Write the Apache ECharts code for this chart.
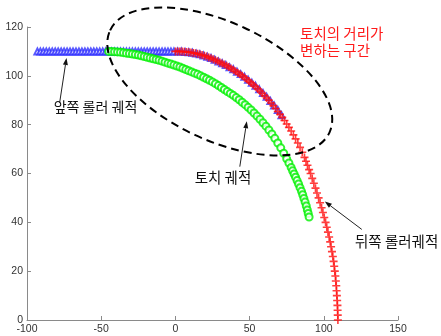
<!DOCTYPE html>
<html><head><meta charset="utf-8">
<script src="https://cdn.jsdelivr.net/npm/echarts@6/dist/echarts.min.js"></script>
<style>html,body{margin:0;padding:0;background:#fff}#c{width:441px;height:336px}</style>
</head><body><div id="c"></div>
<script>
// axis ranges / ticks
const xRange = [-100, 150, 50];
const yRange = [0, 120, 20];

// 앞쪽 롤러 궤적 (blue triangles)
const frontRoller = [
[-93,110],[-91,110],[-89,110],[-87,110],[-85,110],[-83,110],[-81,110],[-79,110],[-77,110],[-75,110],
[-73,110],[-71,110],[-69,110],[-67,110],[-65,110],[-63,110],[-61,110],[-59,110],[-57,110],[-55,110],
[-53,110],[-51,110],[-49,110],[-47,110],[-45,110],[-43,110],[-41,110],[-39,110],[-37,110],[-35,110],
[-33,110],[-31,110],[-29,110],[-27,110],[-25,110],[-23,110],[-21,110],[-19,110],[-17,110],[-15,110],
[-13,110],[-11,110],[-9,110],[-7,110],[-5,110],[-3,110],[-1,110],
[1.5,110],[4,110],[6.5,109.8],[9,109.7],[11.5,109.5],[14,109.1],[16.5,108.8],[19,108.3],[21.5,107.8],
[24,107.3],[26.5,106.6],[29,105.9],[31.5,105.2],[34,104.4],[36.5,103.5],[39,102.7],[41.5,101.7],
[44,100.7],[46.5,99.6],[49,98.4],[51.5,97.2],[54,95.9],[56.5,94.5],[59,93.0],[61.5,91.4],[64,89.7],
[66.5,87.9],[69,86.0],[71.5,83.9]
];

// 토치 궤적 (green circles)
const torch = [
[-45,110],[-43,110],[-41,109.9],[-39,109.8],[-37,109.7],[-35,109.5],[-33,109.3],[-31,109.1],[-29,108.9],
[-27,108.7],[-25,108.5],[-23,108.2],[-21,107.9],[-19,107.6],[-17,107.3],[-15,107.0],[-13,106.7],[-11,106.4],
[-9,106.0],[-7,105.6],[-5,105.2],[-3,104.8],[-1,104.4],[1,104.0],[3,103.6],[5,103.1],[7,102.6],[9,102.1],
[11,101.6],[13,101.1],[15,100.6],[17,100.0],[19,99.4],[21,98.8],[23,98.2],[25,97.5],[27,96.8],[29,96.0],
[31,95.2],[33,94.4],[35,93.6],[37,92.8],[39,92.0],[41,91.1],[43,90.2],[45,89.2],[47,88.2],[49,87.1],
[51,86.0],[53,84.8],[55,83.5],[57,82.2],[59,80.8],[61,79.4],[63,77.8],[65,76.2],[67,74.4],[69,72.5],
[71,70.5],[73,68.3],[75,66.0],[76.5,64.3],[78,62.5],[79,61.1],[80,59.8],[81,58.5],[82,57.1],[83,55.7],
[84,54.2],[85,52.7],[85.8,51.3],[86.6,49.8],[87.4,48.3],[88.2,46.7],[88.9,45.1],[89.5,43.6],[90.1,42.2]
];

// 뒤쪽 롤러 궤적 (red plus)
const rearRoller = [
[0,110],[1.5,110],[3,110],[4.5,109.95],[6,109.9],[7.5,109.8],[9,109.7],[10.5,109.55],[12,109.4],[13.5,109.2],
[15,109.0],[16.5,108.75],[18,108.5],[19.5,108.2],[21,107.9],[22.5,107.55],[24,107.2],[25.5,106.8],[27,106.4],
[28.5,105.95],[30,105.5],[31.5,105.05],[33,104.6],[34.5,104.1],[36,103.6],[37.5,103.05],[39,102.5],[40.5,101.9],
[42,101.3],[43.5,100.65],[45,100.0],[46.5,99.3],[48,98.6],[49.5,97.85],[51,97.1],[52.5,96.3],[54,95.5],
[55.5,94.65],[57,93.8],[58.5,92.85],[60,91.9],[61.5,90.95],[63,90.0],[64.5,88.9],[66,87.8],[67.5,86.6],
[69,85.4],[70.5,84.2],[72,83.0],[73.5,81.7],[75,80.3],[76.5,78.9],[78,77.4],[79.5,75.8],[81,74.2],[82.5,72.5],
[84,70.7],[85.5,68.7],[87,66.6],[88,65.0],[89,63.4],[90.1,61.6],
[91.1,60],[92.2,58],[93.3,56],[94.4,54],[95.4,52],[96.5,50],[97.5,48],[98.5,46],[99.4,44],[100.3,42],
[101.2,40],[102.0,38],[102.8,36],[103.6,34],[104.3,32],[104.9,30],[105.5,28],[106.1,26],[106.6,24],
[107.0,22],[107.4,20],[107.8,18],[108.1,16],[108.4,14],[108.6,12],[108.8,10],[109.0,8],[109.2,6],
[109.3,4],[109.4,2],[109.5,0]
];

// annotation texts (data coordinates of left/middle anchor)
const notes = [
  {text:'앞쪽 롤러 궤적', at:[-82, 87.5], size:14, color:'#111'},
  {text:'토치 궤적', at:[13, 58.4], size:14.5, color:'#111'},
  {text:'뒤쪽 롤러궤적', at:[121, 32.2], size:14.5, color:'#111'},
  {text:'토치의 거리가', at:[84, 117.4], size:14.5, color:'#ff1a1a'},
  {text:'변하는 구간', at:[84, 110.4], size:14.5, color:'#ff1a1a'}
];
// arrows: from -> to (data coordinates)
const arrows = [
  [[-78, 89], [-73.4, 107.3]],
  [[43.4, 62.8], [48.1, 81.4]],
  [[125.6, 37.1], [100.7, 48.5]]
];
// dashed ellipse: centre in data coords
const ellipseCentre = [29.9, 97.7];

const plusPath = 'path://M2.8,0H4.2V2.8H7V4.2H4.2V7H2.8V4.2H0V2.8H2.8Z';
const chart = echarts.init(document.getElementById('c'), null, {renderer:'canvas'});
const axisCommon = {
  type:'value',
  axisLine:{show:true, onZero:false, lineStyle:{color:'#8a8a8a', width:1}},
  axisTick:{show:true, inside:true, length:4, lineStyle:{color:'#8a8a8a'}},
  axisLabel:{color:'#333', fontSize:10.5, fontFamily:'Liberation Sans, Arial, sans-serif', margin:4},
  splitLine:{show:false}
};
chart.setOption({
  animation:false,
  backgroundColor:'#fff',
  grid:{left:27, right:43, top:27, bottom:16, containLabel:false},
  xAxis:Object.assign({}, axisCommon, {min:xRange[0], max:xRange[1], interval:xRange[2]}),
  yAxis:Object.assign({}, axisCommon, {min:yRange[0], max:yRange[1], interval:yRange[2]}),
  series:[
    {type:'scatter', data:frontRoller, symbol:'emptyTriangle', symbolSize:6,
     itemStyle:{color:'#3030ff', borderColor:'#3030ff', borderWidth:0.7}, z:2},
    {type:'scatter', data:torch, symbol:'emptyCircle', symbolSize:7,
     itemStyle:{color:'#00f000', borderColor:'#00f000', borderWidth:0.8}, z:3},
    {type:'scatter', data:rearRoller, symbol:plusPath, symbolSize:8,
     itemStyle:{color:'#ff0d0d'}, z:4}
  ]
});

function px(p){ return chart.convertToPixel({gridIndex:0}, p); }
const g = [];
const c = px(ellipseCentre);
g.push({type:'ellipse', x:c[0], y:c[1], rotation:-25*Math.PI/180,
  shape:{cx:0, cy:0, rx:121, ry:59},
  style:{fill:'none', stroke:'#000', lineWidth:2, lineDash:[8,5]}, z:10, silent:true});
arrows.forEach(a=>{
  const p1 = px(a[0]), p2 = px(a[1]);
  const dx = p2[0]-p1[0], dy = p2[1]-p1[1], L = Math.hypot(dx,dy);
  const ux = dx/L, uy = dy/L, hl = 7, hw = 2.5;
  const bx = p2[0]-ux*hl, by = p2[1]-uy*hl;
  g.push({type:'line', shape:{x1:p1[0], y1:p1[1], x2:bx, y2:by}, style:{stroke:'#222', lineWidth:1}, z:11, silent:true});
  g.push({type:'polygon', shape:{points:[[p2[0],p2[1]],[bx-uy*hw, by+ux*hw],[bx+uy*hw, by-ux*hw]]},
    style:{fill:'#111'}, z:11, silent:true});
});
notes.forEach(n=>{
  const p = px(n.at);
  g.push({type:'text', x:p[0], y:p[1], z:12, silent:true,
    style:{text:n.text, fill:n.color, fontSize:n.size, fontFamily:'"Noto Sans CJK KR", sans-serif', align:'left', verticalAlign:'middle'}});
});
chart.setOption({graphic:g});
</script>
</body></html>
